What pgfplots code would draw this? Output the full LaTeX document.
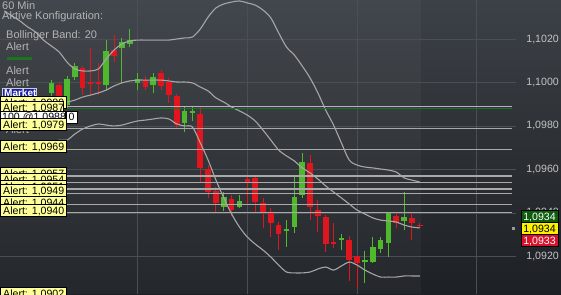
\documentclass[border=0pt]{standalone}
\usepackage{pgfplots}
\pgfplotsset{compat=1.18}
\usepackage{pgfplotstable}
\usepackage{fontspec}
\setmainfont{Liberation Sans}

\definecolor{bgtop}{HTML}{3C4147}
\definecolor{bgbot}{HTML}{1D2024}
\definecolor{cgreen}{HTML}{50B82C}
\definecolor{cred}{HTML}{E0151D}
\definecolor{bandc}{HTML}{A6A6A6}
\definecolor{gridc}{HTML}{4A4F55}
\definecolor{alertc}{HTML}{A9A9A9}
\definecolor{lav}{HTML}{BBAFC8}
\definecolor{dgreen}{HTML}{1C741C}
\definecolor{ybox}{HTML}{FFFF99}
\definecolor{legtxt}{HTML}{B4B4B4}
\definecolor{ticktxt}{HTML}{C4C4C4}
\definecolor{boxgreen}{HTML}{0E5C0E}
\definecolor{boxred}{HTML}{D8102A}
\definecolor{mblue}{HTML}{1E22A8}

\pgfplotstableread{
i o h l c
-2 1.09952 1.10011 1.09938 1.09998
0 1.09896 1.10030 1.09883 1.10016
1 1.10025 1.10090 1.10011 1.10076
5 1.09988 1.10195 1.09965 1.10145
7 1.10159 1.10205 1.09998 1.10186
8 1.10177 1.10246 1.10163 1.10195
9 1.09998 1.10044 1.09965 1.10016
11 1.09988 1.10044 1.09952 1.10025
15 1.09814 1.09887 1.09772 1.09869
16 1.09860 1.09887 1.09823 1.09869
20 1.09427 1.09496 1.09409 1.09473
22 1.09427 1.09482 1.09423 1.09455
28 1.09317 1.09367 1.09243 1.09326
29 1.09335 1.09565 1.09308 1.09473
30 1.09482 1.09676 1.09469 1.09634
35 1.09275 1.09303 1.09229 1.09285
38 1.09174 1.09225 1.09078 1.09183
39 1.09174 1.09289 1.09170 1.09243
40 1.09234 1.09289 1.09216 1.09275
41 1.09262 1.09404 1.09197 1.09400
43 1.09363 1.09496 1.09321 1.09381
}\greenc

\pgfplotstableread{
i o h l c
-1 1.09988 1.09998 1.09873 1.09887
2 1.10067 1.10076 1.09942 1.09975
3 1.10002 1.10159 1.09942 1.09993
4 1.10002 1.10090 1.09942 1.09993
6 1.10149 1.10218 1.10094 1.10122
10 1.10011 1.10030 1.09965 1.09979
12 1.10044 1.10057 1.09965 1.09984
13 1.10002 1.10021 1.09906 1.09942
14 1.09938 1.09947 1.09791 1.09804
17 1.09855 1.09887 1.09538 1.09607
18 1.09602 1.09620 1.09469 1.09496
19 1.09501 1.09519 1.09400 1.09446
21 1.09464 1.09482 1.09386 1.09413
23 1.09556 1.09565 1.09436 1.09542
24 1.09561 1.09570 1.09404 1.09450
25 1.09446 1.09469 1.09331 1.09404
26 1.09400 1.09423 1.09289 1.09354
27 1.09344 1.09358 1.09229 1.09303
31 1.09630 1.09666 1.09367 1.09427
32 1.09413 1.09459 1.09312 1.09386
33 1.09381 1.09390 1.09220 1.09257
34 1.09266 1.09354 1.09239 1.09257
36 1.09275 1.09294 1.09087 1.09183
37 1.09202 1.09202 1.09055 1.09170
42 1.09386 1.09400 1.09331 1.09354
44 1.09377 1.09400 1.09275 1.09354
45 1.09344 1.09354 1.09331 1.09340
}\redc

\pgfplotstableread{
i u
-8 1.10329
-7 1.10306
-6 1.10283
-5 1.10255
-4 1.10232
-3 1.10195
-2 1.10168
-1 1.10140
0 1.10094
1 1.10062
2 1.10053
3 1.10053
4 1.10062
5 1.10108
6 1.10149
7 1.10177
8 1.10191
9 1.10195
10 1.10195
11 1.10195
12 1.10195
13 1.10195
14 1.10200
15 1.10205
16 1.10209
17 1.10246
18 1.10301
19 1.10343
20 1.10361
21 1.10370
22 1.10375
23 1.10366
24 1.10356
25 1.10333
26 1.10297
27 1.10228
28 1.10163
29 1.10126
30 1.10076
31 1.10021
32 1.09952
33 1.09873
34 1.09804
35 1.09722
36 1.09643
37 1.09620
38 1.09611
39 1.09607
40 1.09602
41 1.09597
42 1.09588
43 1.09561
44 1.09551
45 1.09542
}\upperb

\pgfplotstableread{
i m lo
-3 1.09901 1.09689
-2 1.09901 1.09708
-1 1.09906 1.09735
0 1.09910 1.09735
1 1.09919 1.09763
2 1.09933 1.09786
3 1.09942 1.09800
4 1.09952 1.09809
5 1.09965 1.09804
6 1.09984 1.09800
7 1.09998 1.09804
8 1.10007 1.09814
9 1.10011 1.09823
10 1.10011 1.09827
11 1.10011 1.09832
12 1.10011 1.09837
13 1.10007 1.09832
14 1.10002 1.09809
15 1.10002 1.09800
16 1.09998 1.09795
17 1.09979 1.09722
18 1.09961 1.09643
19 1.09929 1.09551
20 1.09910 1.09469
21 1.09887 1.09395
22 1.09869 1.09335
23 1.09850 1.09289
24 1.09823 1.09257
25 1.09781 1.09229
26 1.09735 1.09197
27 1.09689 1.09160
28 1.09662 1.09128
29 1.09639 1.09124
30 1.09607 1.09124
31 1.09584 1.09128
32 1.09556 1.09142
33 1.09524 1.09151
34 1.09496 1.09137
35 1.09469 1.09156
36 1.09441 1.09174
37 1.09413 1.09160
38 1.09395 1.09137
39 1.09377 1.09119
40 1.09367 1.09105
41 1.09363 1.09105
42 1.09358 1.09105
43 1.09344 1.09110
44 1.09335 1.09110
45 1.09331 1.09110
}\midlow

\newcommand\abox[2]{%
  \draw[black, line width=0.7pt, fill=ybox] (0.4,#1) rectangle (66.5,#1+12);
  \node[anchor=base west, inner sep=0pt, text=black] at (3,#1+10.2) {Alert: #2};}

\pgfplotsset{
  wick/.style={draw=none, mark=none, forget plot,
    error bars/.cd, y dir=plus, y explicit, error mark=none,
    error bar style={draw=#1, line width=1pt, line cap=butt}},
  body/.style={draw=none, mark=none, forget plot,
    error bars/.cd, y dir=plus, y explicit, error mark=none,
    error bar style={draw=#1, line width=5.6pt, line cap=butt}},
}

\begin{document}
\begin{tikzpicture}
\begin{axis}[
  scale only axis, width=561pt, height=294pt,
  xmin=-8.546, xmax=63.01, ymin=1.09027, ymax=1.103794,
  axis background/.style={top color=bgtop, bottom color=bgbot},
  axis line style={draw=none}, major tick length=0pt,
  xtick=\empty,
  ytick={1.092,1.094,1.096,1.098,1.100,1.102},
  yticklabels={{1,0920},{1,0940},{1,0960},{1,0980},{1,1000},{1,1020}},
  yticklabel pos=right,
  yticklabel style={anchor=east, xshift=-2pt, inner sep=0pt, text=ticktxt, font=\fontsize{10.6}{12}\selectfont},
]
\coordinate (NW) at (rel axis cs:0,1);
\coordinate (SW) at (rel axis cs:0,0);
\coordinate (NE) at (rel axis cs:1,1);
% lighter data area
\fill[white, fill opacity=0.035] (axis cs:-8.546,1.09027) rectangle (axis cs:45.2,1.103794);
% grid
\pgfplotsinvokeforeach{1.092,1.094,1.096,1.098,1.100,1.102}{
  \draw[gridc, line width=0.8pt] (axis cs:-8.546,#1) -- (axis cs:57.3,#1);}
\pgfplotsinvokeforeach{9,22.96,36.99,52.17}{
  \draw[gridc, line width=0.8pt] (axis cs:#1,1.09027) -- (axis cs:#1,1.103794);}

% wicks: from low up to high
\addplot[wick=cgreen] table[x=i, y=l, y error expr={\thisrow{h}-\thisrow{l}}] {\greenc};
\addplot[wick=cred] table[x=i, y=l, y error expr={\thisrow{h}-\thisrow{l}}] {\redc};
% bodies: from open up to close (green), from close up to open (red)
\addplot[body=cgreen] table[x=i, y=o, y error expr={\thisrow{c}-\thisrow{o}}] {\greenc};
\addplot[body=cred] table[x=i, y=c, y error expr={\thisrow{o}-\thisrow{c}}] {\redc};

% Bollinger bands
\addplot[bandc, line width=1.1pt, smooth, mark=none] table[x=i, y=u] {\upperb};
\addplot[bandc, line width=1.1pt, smooth, mark=none] table[x=i, y=m] {\midlow};
\addplot[bandc, line width=1.1pt, smooth, mark=none] table[x=i, y=lo] {\midlow};

% alert lines
\addplot[lav, line width=1.1pt, mark=none] coordinates {(-8.6,1.0989) (56.76,1.0989)};
\addplot[dgreen, line width=1.3pt, mark=none] coordinates {(-8.6,1.0988) (56.76,1.0988)};
\pgfplotsinvokeforeach{1.0979,1.0969,1.0957,1.0954,1.0951,1.0949,1.0944,1.0940,1.0902}{
  \addplot[alertc, line width=1.1pt, mark=none] coordinates {(-8.6,#1) (56.76,#1)};}
\end{axis}

\begin{scope}[shift={(NW)}, x=1pt, y=-1pt, font=\fontsize{10.6}{12}\selectfont]
  % legend text
  \begin{scope}[font=\fontsize{11}{12}\selectfont]
  \node[anchor=base west, inner sep=0pt, text=legtxt] at (2,9.5) {60 Min};
  \node[anchor=base west, inner sep=0pt, text=legtxt] at (2,20) {Aktive Konfiguration:};
  \node[anchor=base west, inner sep=0pt, text=legtxt] at (6,38.5) {Bollinger Band: 20};
  \node[anchor=base west, inner sep=0pt, text=legtxt] at (6,50.5) {Alert};
  \draw[dgreen, line width=3pt] (7,58.5) -- (32,58.5);
  \node[anchor=base west, inner sep=0pt, text=legtxt] at (6,74.5) {Alert};
  \node[anchor=base west, inner sep=0pt, text=legtxt] at (6,86.5) {Alert};
  \node[anchor=base west, inner sep=0pt, text=legtxt] at (6,110.5) {Alert};
  \node[anchor=base west, inner sep=0pt, text=legtxt] at (6,133.5) {Alert};
  \end{scope}
  % market box
  \draw[black!20, line width=0.7pt, fill=mblue] (2,88) rectangle (36,99);
  \node[anchor=base west, inner sep=0pt, text=white, font=\bfseries\fontsize{10}{12}\selectfont] at (4,97) {Market};
  % alert boxes (top to bottom)
  \abox{96}{1,0989}
  \draw[black, line width=0.7pt, fill=ybox] (0.4,101) rectangle (63,113);
  \node[anchor=base west, inner sep=0pt, text=black] at (3,111.2) {Alert: 1,0987};
  \draw[black, line width=0.7pt, fill=white] (0.4,111.5) rectangle (65,123);
  \node[anchor=base west, inner sep=0pt, text=black] at (2,120.5) {100 @1,0988};
  \draw[black, line width=0.7pt, fill=white] (66,111.5) rectangle (77,123);
  \node[anchor=base, inner sep=0pt, text=black] at (71.5,120.5) {0};
  \abox{118.5}{1,0979}
  \abox{140.7}{1,0969}
  \abox{167.4}{1,0957}
  \abox{173.8}{1,0954}
  \abox{180.5}{1,0951}
  \abox{184.8}{1,0949}
  \abox{196.2}{1,0944}
  \abox{204.4}{1,0940}
  \abox{287.5}{1,0902}
  % right price boxes
  \fill[black!40] (512,227) rectangle (515,230);
  \draw[black, line width=0.7pt, fill=boxgreen] (521,210) rectangle (558,222);
  \node[anchor=base, inner sep=0pt, text=white] at (539.5,220) {1,0934};
  \draw[black, line width=0.7pt, fill=yellow] (521,222) rectangle (558,234);
  \node[anchor=base, inner sep=0pt, text=black] at (539.5,232) {1,0934};
  \draw[black, line width=0.7pt, fill=boxred] (521,234) rectangle (558,246);
  \node[anchor=base, inner sep=0pt, text=white] at (539.5,244) {1,0933};
\end{scope}
\pgfresetboundingbox
\path (SW) rectangle (NE);
\end{tikzpicture}
\end{document}
